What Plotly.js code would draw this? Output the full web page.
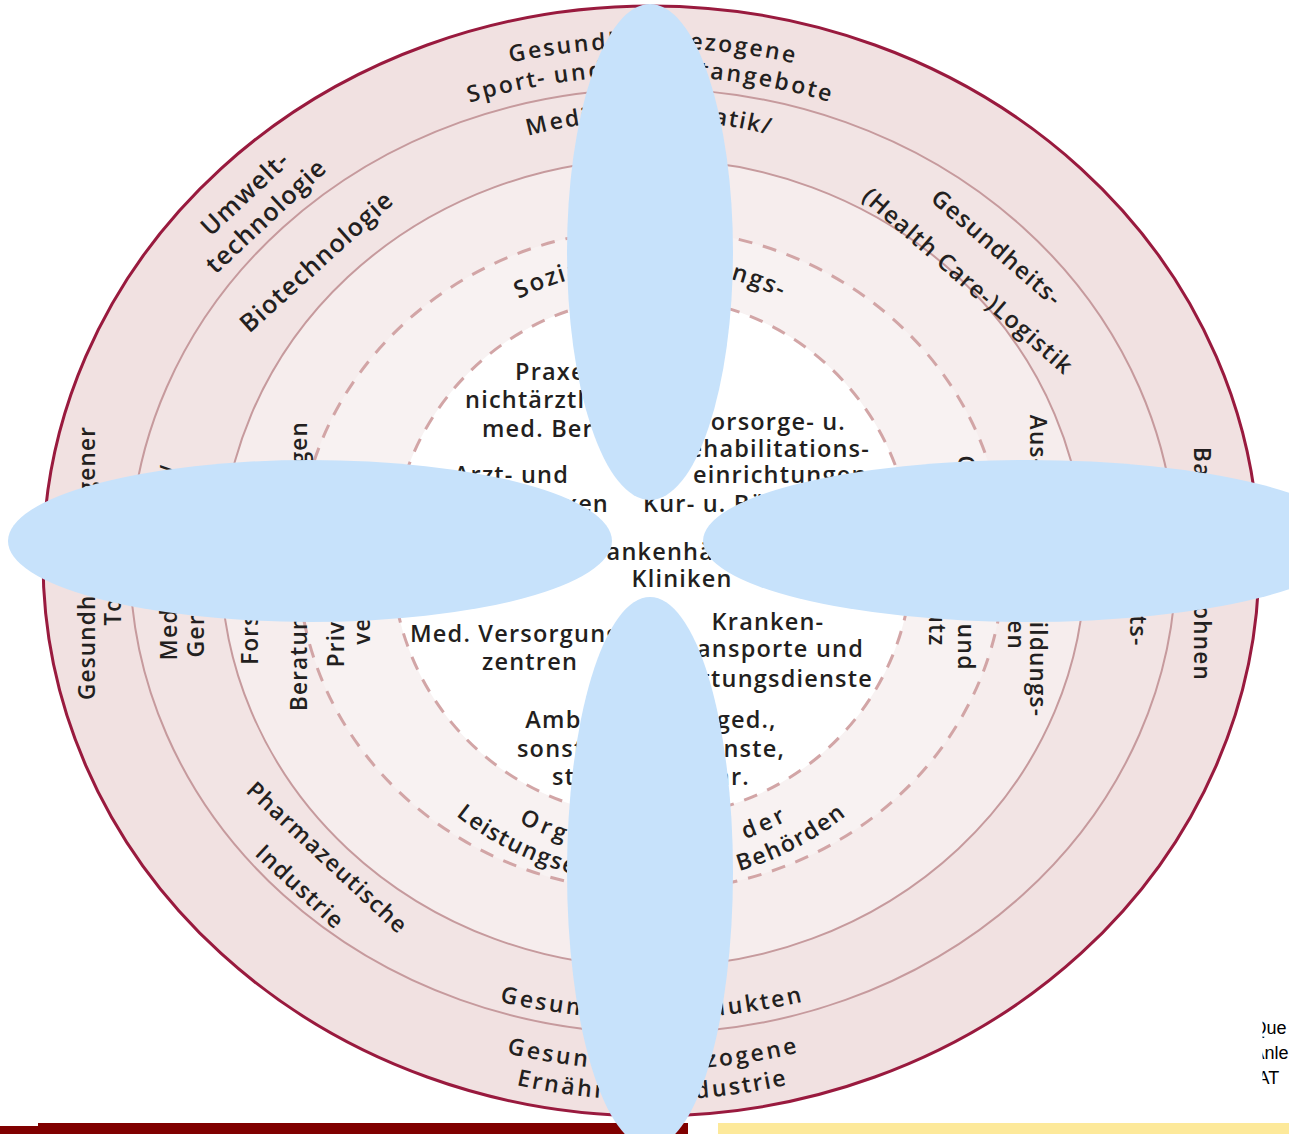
<!DOCTYPE html>
<html><head><meta charset="utf-8">
<script src="https://cdn.plot.ly/plotly-3.0.1.min.js"></script>
<style>html,body{margin:0;padding:0;background:#fff;overflow:hidden}#chart{width:1289px;height:1134px}
text.shape-label-text{letter-spacing:1.2px}
text.shape-label-text[style*="Liberation"]{letter-spacing:0}</style>
</head><body><div id="chart"></div>
<script>
// ---------------- text content (data) ----------------
const coreLabels = [
  ["Praxen", "nichtärztlicher", "med. Berufe"],
  ["Vorsorge- u.", "Rehabilitations-", "einrichtungen", "Kur- u. Bäderwesen"],
  ["Arzt- und", "Zahnarztpraxen"],
  ["Krankenhäuser", "Kliniken"],
  ["Med. Versorgungs-", "zentren"],
  ["Kranken-", "transporte und", "Rettungsdienste"],
  ["Ambulante Pfleged.,", "sonstige Hilfsdienste,", "stat. Pflegeeinr."]
];
const arcLabels = [
  "Gesundheitsbezogene", "Sport- und Freizeitangebote",
  "Medizininformatik/",
  "Sozialversicherungs-",
  "Organisationen der", "Leistungserbringer und Behörden",
  "Gesundheitsprodukten",
  "Gesundheitsbezogene", "Ernährungsindustrie"
];
const ringLabels = [
  ["Umwelt-", "technologie"],
  ["Biotechnologie"],
  ["Gesundheits-", "(Health Care-)Logistik"],
  ["Pharmazeutische", "Industrie"],
  ["Gesundheitsbezogener", "Tourismus"],
  ["Medizintechnik/", "Gerontotechnik"],
  ["Forschungs- und", "Beratungseinrichtungen"],
  ["Private Kranken-", "versicherung"],
  ["Bauen und Wohnen"],
  ["Gesundheits-"],
  ["Aus- und Weiterbildungs-", "einrichtungen"],
  ["Gesundheits- und", "Arbeitsschutz"]
];
const sourceLines = ["Que", "Anle", "IAT"];

// ---------------- layout / styling ----------------
const W = 1289, H = 1134;
const FONT = '"Open Sans", sans-serif';
const INK = '#231f20';
const CORE_SIZE = 23.5, ARC_SIZE = 23;

const ringShapes = [
  {cx:651, cy:561, rx:608, ry:555, fill:'#f1e1e1', line:'#991a3e', w:3, dash:'solid'},
  {cx:653, cy:561, rx:523, ry:472, fill:'#f2e4e4', line:'#c69a9d', w:2, dash:'solid'},
  {cx:653, cy:563, rx:432, ry:404, fill:'#f6eded', line:'#c69a9d', w:2, dash:'solid'},
  {cx:651, cy:560, rx:353, ry:331, fill:'#f8f2f2', line:'#d2a5a6', w:3, dash:'14px,11px'},
  {cx:652, cy:557, rx:260, ry:260, fill:'#ffffff', line:'#d2a5a6', w:3, dash:'14px,11px'}
];
const petals = [
  {cx:650, cy:252, rx:83, ry:248},
  {cx:650, cy:872, rx:83, ry:275},
  {cx:310, cy:541, rx:302, ry:81},
  {cx:1028, cy:541, rx:325, ry:81}
];
const corePos = [
  [[515,372,'left'],[465,400,'left'],[482,429,'left']],
  [[846,422,'right'],[870,449,'right'],[693,475,'left'],[643,504,'left']],
  [[569,475,'right'],[609,504,'right']],
  [[674,552,'center'],[682,579,'center']],
  [[410,634,'left'],[530,662,'center']],
  [[768,622,'center'],[864,649,'right'],[873,679,'right']],
  [[651,720,'center'],[651,749,'center'],[651,777,'center']]
];
const arcPos = [
  {a:600, b:520, top:true,  x0:508, x1:797, size:ARC_SIZE},
  {a:560, b:492, top:true,  x0:467, x1:833, size:ARC_SIZE},
  {a:470, b:448, top:true,  x0:525, x1:772, size:ARC_SIZE},
  {a:305, b:300, top:true,  x0:515, x1:785, size:24},
  {a:282, b:287, top:false, x0:520, x1:785, size:ARC_SIZE},
  {a:310, b:316, top:false, x0:460, x1:843, size:ARC_SIZE},
  {a:550, b:451, top:false, x0:500, x1:803, size:ARC_SIZE},
  {a:560, b:502, top:false, x0:507, x1:798, size:ARC_SIZE},
  {a:570, b:532, top:false, x0:517, x1:787, size:ARC_SIZE}
];
const ARC_C = {cx:651, cy:561};
const ringPos = [
  {x:256, y:205, angle:-43, size:25, spacing:31},
  {x:317, y:262, angle:-42, size:25, spacing:0},
  {x:982, y:265, angle:41, size:23.5, spacing:44},
  {x:313, y:873, angle:43, size:23, spacing:40},
  {x:101, y:563, angle:-90, size:22.5, spacing:26},
  {x:183, y:562, angle:-90, size:23, spacing:27},
  {x:275, y:566, angle:-90, size:22.5, spacing:49},
  {x:350, y:567, angle:-90, size:22.5, spacing:26},
  {x:1201, y:564, angle:90, size:22.5, spacing:0},
  {x:1137, y:566, angle:90, size:23, spacing:0},
  {x:1026, y:566, angle:90, size:22.5, spacing:22},
  {x:950, y:563, angle:90, size:23, spacing:29}
];

// ---------------- helpers ----------------
const ctx = document.createElement('canvas').getContext('2d');
function tw(s, size){ ctx.font = '600 ' + size + 'px "Open Sans"'; return ctx.measureText(s).width; }

function label(x, y, text, angle, size, anchor, color, family, weight){
  return {type:'rect', xref:'x', yref:'y', x0:x, x1:x, y0:y, y1:y, layer:'above',
    line:{width:0}, fillcolor:'rgba(0,0,0,0)',
    label:{text:text, textangle:angle, textposition:'middle center',
      xanchor:anchor || 'center', yanchor:'middle', padding:0,
      font:{family:family || FONT, size:size, color:color || INK, weight:weight || 600}}};
}
function ellipse(e, fill, line, w, dash){
  return {type:'circle', xref:'x', yref:'y', layer:'above',
    x0:e.cx-e.rx, x1:e.cx+e.rx, y0:e.cy-e.ry, y1:e.cy+e.ry,
    fillcolor:fill, line:{color:line || fill, width:w || 0, dash:dash || 'solid'}};
}
function arcText(text, p){
  const N = 4000, pts = [];
  let s = 0, prev = null;
  for(let i=0;i<=N;i++){
    const t = -Math.PI/2 + Math.PI*i/N;
    const x = ARC_C.cx + p.a*Math.sin(t);
    const y = p.top ? ARC_C.cy - p.b*Math.cos(t) : ARC_C.cy + p.b*Math.cos(t);
    if(prev) s += Math.hypot(x-prev[0], y-prev[1]);
    pts.push({x:x, y:y, s:s}); prev = [x,y];
  }
  const sAtX = x => { for(let i=1;i<pts.length;i++){ if(pts[i].x >= x){ const a=pts[i-1], b=pts[i]; return a.s + (x-a.x)/(b.x-a.x)*(b.s-a.s);} } return s; };
  const at = ss => { for(let i=1;i<pts.length;i++){ if(pts[i].s >= ss){ const a=pts[i-1], b=pts[i]; const f=(ss-a.s)/(b.s-a.s);
      return {x:a.x+f*(b.x-a.x), y:a.y+f*(b.y-a.y), ang:Math.atan2(b.y-a.y, b.x-a.x)*180/Math.PI}; } } return pts[pts.length-1]; };
  const chars = Array.from(text);
  const ws = chars.map(c => tw(c, p.size));
  const total = ws.reduce((u,v)=>u+v, 0);
  const s0 = sAtX(p.x0), s1 = sAtX(p.x1), k = (s1-s0)/total;
  const out = []; let acc = 0;
  chars.forEach((c,i) => {
    const q = at(s0 + k*(acc + ws[i]/2)); acc += ws[i];
    if(c !== ' ') out.push(label(q.x, q.y, c, q.ang, p.size));
  });
  return out;
}
function straight(lines, p){
  const A = p.angle*Math.PI/180, dx = -Math.sin(A), dy = Math.cos(A), n = lines.length;
  return lines.map((t,i) => { const off = (i-(n-1)/2)*p.spacing; return label(p.x+off*dx, p.y+off*dy, t, p.angle, p.size); });
}

// ---------------- build ----------------
let shapes = [];
ringShapes.forEach(r => shapes.push(ellipse(r, r.fill, r.line, r.w, r.dash)));
coreLabels.forEach((lines, i) => lines.forEach((t, j) => {
  const q = corePos[i][j]; shapes.push(label(q[0], q[1], t, 0, CORE_SIZE, q[2]));
}));
arcLabels.forEach((t, i) => { shapes = shapes.concat(arcText(t, arcPos[i])); });
ringLabels.forEach((lines, i) => { shapes = shapes.concat(straight(lines, ringPos[i])); });
// source note (its left part is cut off in the original)
sourceLines.forEach((t, i) => shapes.push(label(1252.5, 1026 + i*25, t, 0, 18, 'left', '#000', '"Liberation Sans", Arial, sans-serif', 400)));
shapes.push({type:'rect', xref:'x', yref:'y', layer:'above', x0:1200, x1:1262.5, y0:1005, y1:1095, fillcolor:'#ffffff', line:{width:0}});
// bottom bars
shapes.push({type:'rect', xref:'x', yref:'y', layer:'above', x0:38, x1:688, y0:1123, y1:1134, fillcolor:'#800000', line:{width:0}});
shapes.push({type:'rect', xref:'x', yref:'y', layer:'above', x0:0, x1:38, y0:1126, y1:1134, fillcolor:'#800000', line:{width:0}});
shapes.push({type:'rect', xref:'x', yref:'y', layer:'above', x0:718, x1:1289, y0:1123, y1:1134, fillcolor:'#fde99a', line:{width:0}});
// blue petals on top
petals.forEach(p => shapes.push(ellipse(p, '#c7e2fb')));

const layout = {
  width:W, height:H, margin:{l:0,r:0,t:0,b:0,pad:0},
  paper_bgcolor:'#ffffff', plot_bgcolor:'#ffffff', showlegend:false,
  xaxis:{range:[0,W], visible:false, fixedrange:true},
  yaxis:{range:[H,0], visible:false, fixedrange:true},
  shapes:shapes
};
Plotly.newPlot('chart', [{type:'scatter', x:[], y:[], hoverinfo:'skip'}], layout, {staticPlot:true, displayModeBar:false});
</script></body></html>
